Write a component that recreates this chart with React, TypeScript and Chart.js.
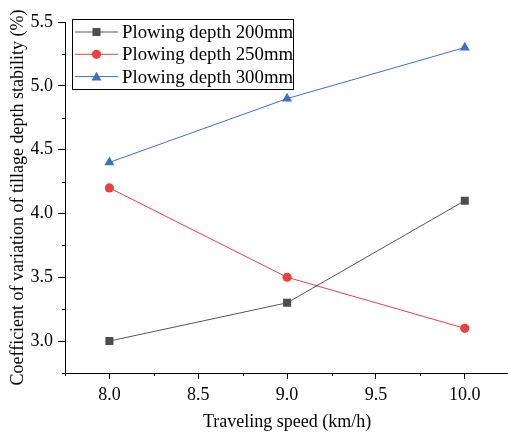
import React, { useEffect, useRef } from "react";
import { Chart, registerables } from "chart.js";

Chart.register(...registerables);

const speeds = [8.0, 9.0, 10.0];
const depth200 = [3.0, 3.3, 4.1];
const depth250 = [4.2, 3.5, 3.1];
const depth300 = [4.4, 4.9, 5.3];
const seriesNames = ["Plowing depth 200mm", "Plowing depth 250mm", "Plowing depth 300mm"];
const xTicks = [7.75, 8.0, 8.25, 8.5, 8.75, 9.0, 9.25, 9.5, 9.75, 10.0, 10.25];
const yTicks = [2.75, 3.0, 3.25, 3.5, 3.75, 4.0, 4.25, 4.5, 4.75, 5.0, 5.25, 5.5];

const FONT = "'Liberation Serif', 'Times New Roman', serif";
const isMajor = (v: number) => Math.abs(v * 2 - Math.round(v * 2)) < 1e-6;

const minorTicks = {
  id: "minorTicks",
  afterDraw(chart: any) {
    const ctx = chart.ctx;
    const { left, bottom } = chart.chartArea;
    ctx.save();
    ctx.strokeStyle = "#000";
    ctx.lineWidth = 1;
    ctx.beginPath();
    xTicks.filter((v) => !isMajor(v)).forEach((v) => {
      const x = Math.round(chart.scales.x.getPixelForValue(v)) + 0.5;
      ctx.moveTo(x, bottom);
      ctx.lineTo(x, bottom + 3);
    });
    yTicks.filter((v) => !isMajor(v)).forEach((v) => {
      const y = Math.round(chart.scales.y.getPixelForValue(v)) + 0.5;
      ctx.moveTo(left, y);
      ctx.lineTo(left - 3, y);
    });
    ctx.stroke();
    ctx.restore();
  },
};

const boxLegend = {
  id: "boxLegend",
  afterDraw(chart: any) {
    const ctx = chart.ctx;
    const { left, top } = chart.chartArea;
    const bx = left + 7;
    const by = top - 3;
    const bw = 221;
    const bh = 70;
    ctx.save();
    ctx.fillStyle = "#fff";
    ctx.fillRect(bx, by, bw, bh);
    ctx.strokeStyle = "#000";
    ctx.lineWidth = 1;
    ctx.strokeRect(Math.round(bx) + 0.5, Math.round(by) + 0.5, bw, bh);
    chart.data.datasets.forEach((ds: any, i: number) => {
      const y = by + 13 + i * 22.3;
      ctx.strokeStyle = ds.borderColor;
      ctx.lineWidth = 1;
      ctx.beginPath();
      ctx.moveTo(bx + 3, y);
      ctx.lineTo(bx + 46, y);
      ctx.stroke();
      ctx.fillStyle = ds.backgroundColor;
      const st = ds.pointStyle;
      ctx.beginPath();
      if (st === "rect") {
        ctx.fillRect(bx + 24.5 - 4, y - 4, 8, 8);
      } else if (st === "circle") {
        ctx.arc(bx + 24.5, y, 4.6, 0, Math.PI * 2);
        ctx.fill();
      } else {
        const r = 5.8;
        const cx = bx + 24.5;
        const cy = y + 1;
        ctx.moveTo(cx, cy - r);
        ctx.lineTo(cx + r * 0.866, cy + r * 0.5);
        ctx.lineTo(cx - r * 0.866, cy + r * 0.5);
        ctx.closePath();
        ctx.fill();
      }
      ctx.fillStyle = "#000";
      ctx.font = `18.8px ${FONT}`;
      ctx.textBaseline = "middle";
      ctx.textAlign = "left";
      ctx.fillText(seriesNames[i], bx + 50, y + 1);
    });
    ctx.restore();
  },
};

export default function App() {
  const ref = useRef<HTMLCanvasElement | null>(null);

  useEffect(() => {
    if (!ref.current) return;
    const mk = (vals: number[]) => speeds.map((x, i) => ({ x, y: vals[i] }));
    const chart = new Chart(ref.current, {
      type: "line",
      data: {
        datasets: [
          {
            label: seriesNames[0],
            data: mk(depth200),
            borderColor: "#555555",
            backgroundColor: "#4d4d4d",
            pointStyle: "rect",
            pointRadius: 5.7,
            pointBorderWidth: 0,
            borderWidth: 1,
          },
          {
            label: seriesNames[1],
            data: mk(depth250),
            borderColor: "#e8413f",
            backgroundColor: "#e8413f",
            pointStyle: "circle",
            pointRadius: 4.6,
            pointBorderWidth: 0,
            borderWidth: 1,
          },
          {
            label: seriesNames[2],
            data: mk(depth300),
            borderColor: "#3d6fc4",
            backgroundColor: "#3d6fc4",
            pointStyle: "triangle",
            pointRadius: 5.8,
            pointBorderWidth: 0,
            borderWidth: 1,
          },
        ],
      },
      options: {
        animation: false,
        responsive: false,
        events: [],
        layout: { padding: { top: 22, right: 1, left: 0, bottom: 0 } },
        plugins: { legend: { display: false }, tooltip: { enabled: false } },
        scales: {
          x: {
            type: "linear",
            min: 7.75,
            max: 10.25,
            afterBuildTicks: (s: any) => {
              s.ticks = xTicks.map((v) => ({ value: v }));
            },
            afterFit: (s: any) => {
              s.height = 60;
            },
            border: { display: true, color: "#000", width: 1 },
            grid: {
              display: true,
              drawOnChartArea: false,
              drawTicks: true,
              tickLength: 6,
              tickColor: (c: any) => (isMajor(c.tick.value) ? "#000" : "rgba(0,0,0,0)"),
            },
            ticks: {
              autoSkip: false,
              maxRotation: 0,
              padding: 5,
              color: "#000",
              font: { family: FONT, size: 18 },
              callback: (v: any) => (isMajor(Number(v)) ? Number(v).toFixed(1) : ""),
            },
            title: {
              display: true,
              text: "Traveling speed (km/h)",
              color: "#000",
              font: { family: FONT, size: 18 },
              padding: { top: 2, bottom: 0 },
            },
          },
          y: {
            type: "linear",
            min: 2.75,
            max: 5.5,
            afterBuildTicks: (s: any) => {
              s.ticks = yTicks.map((v) => ({ value: v }));
            },
            afterFit: (s: any) => {
              s.width = 65;
            },
            border: { display: true, color: "#000", width: 1 },
            grid: {
              display: true,
              drawOnChartArea: false,
              drawTicks: true,
              tickLength: 7,
              tickColor: (c: any) => (isMajor(c.tick.value) ? "#000" : "rgba(0,0,0,0)"),
            },
            ticks: {
              autoSkip: false,
              padding: 5,
              color: "#000",
              font: { family: FONT, size: 18 },
              callback: (v: any) => (isMajor(Number(v)) ? Number(v).toFixed(1) : ""),
            },
            title: {
              display: true,
              text: "Coefficient of variation of tillage depth stability (%)",
              color: "#000",
              font: { family: FONT, size: 18 },
              padding: { top: 7, bottom: 0 },
            },
          },
        },
      },
      plugins: [minorTicks, boxLegend],
    });
    return () => chart.destroy();
  }, []);

  return (
    <div style={{ position: "fixed", left: 0, top: 0, width: 508, height: 433, overflow: "hidden", background: "#fff" }}>
      <canvas ref={ref} width={515} height={433} style={{ display: "block" }} />
    </div>
  );
}
